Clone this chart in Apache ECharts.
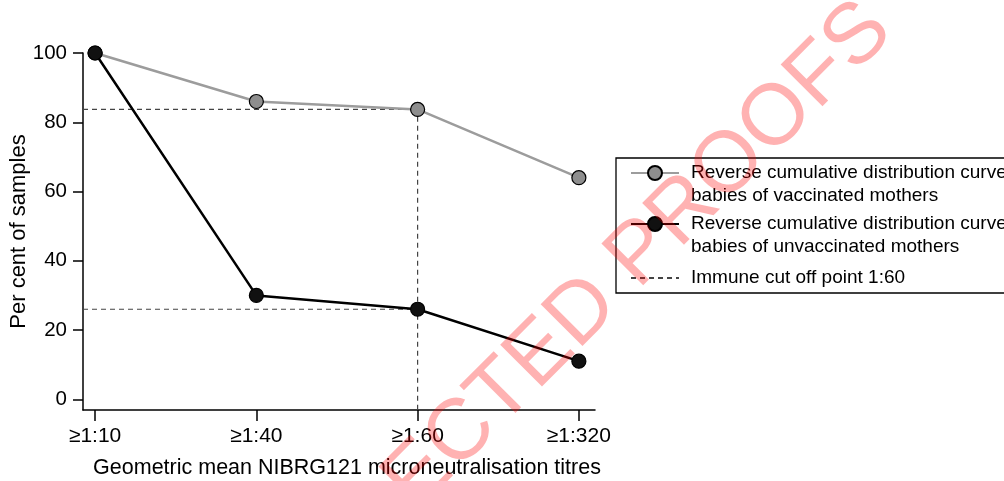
<!DOCTYPE html>
<html><head><meta charset="utf-8">
<script src="https://cdn.jsdelivr.net/npm/echarts@6/dist/echarts.min.js"></script>
<style>html,body{margin:0;padding:0;background:#fff}#c{width:1004px;height:481px}</style>
</head><body><div id="c"></div>
<script>
// ---- data ----
const categories = ['≥1:10', '≥1:40', '≥1:60', '≥1:320'];
const vaccinated = [100, 86, 83.7, 64];
const unvaccinated = [100, 30, 26, 11];
const yTicks = [0, 20, 40, 60, 80, 100];
const nameVacc = 'Reverse cumulative distribution curve\nbabies of vaccinated mothers';
const nameUnvacc = 'Reverse cumulative distribution curve\nbabies of unvaccinated mothers';
const nameCut = 'Immune cut off point 1:60';
const cutIndex = 2;
const xTitle = 'Geometric mean NIBRG121 microneutralisation titres';
const yTitle = 'Per cent of samples';
const watermark = 'UNCORRECTED PROOFS';

// ---- axis extents ----
const xMin = -0.075, xMax = 3.1;
const yMin = -3.1, yMax = 100;
const xTicks = categories.map((c, i) => i);

const FONT = '"Liberation Sans", Arial, Helvetica, sans-serif';
const toPts = arr => arr.map((v, i) => [i, v]);

const chart = echarts.init(document.getElementById('c'), null, {renderer: 'canvas'});
chart.setOption({
  animation: false,
  backgroundColor: '#fff',
  textStyle: {fontFamily: FONT},
  grid: {left: 83, right: 409, top: 53, bottom: 71, containLabel: false, outerBoundsMode: 'none'},
  xAxis: {
    type: 'value', min: xMin, max: xMax,
    splitLine: {show: false},
    axisLine: {show: true, onZero: false, lineStyle: {color: '#000', width: 1.5}},
    axisTick: {show: true, customValues: xTicks, length: 11, lineStyle: {color: '#000', width: 1.5}},
    axisLabel: {customValues: xTicks, margin: 16, color: '#000', fontSize: 21, fontFamily: FONT,
      formatter: v => categories[Math.round(v)]},
    name: xTitle, nameLocation: 'middle', nameGap: 47, nameMoveOverlap: false,
    nameTextStyle: {color: '#000', fontSize: 21.5, fontFamily: FONT, padding: [0, 0, 0, 16]}
  },
  yAxis: {
    type: 'value', min: yMin, max: yMax,
    splitLine: {show: false},
    axisLine: {show: true, onZero: false, lineStyle: {color: '#000', width: 1.5}},
    axisTick: {show: true, customValues: yTicks, length: 10, lineStyle: {color: '#000', width: 1.5}},
    axisLabel: {customValues: yTicks, margin: 16, color: '#000', fontSize: 20.5, fontFamily: FONT},
    name: yTitle, nameLocation: 'middle', nameGap: 53, nameMoveOverlap: false,
    nameTextStyle: {color: '#000', fontSize: 22, fontFamily: FONT}
  },
  legend: {
    orient: 'vertical', left: 616, top: 158,
    padding: [-19.5, 12, -22.5, 14],
    itemGap: -18, itemWidth: 48, itemHeight: 17.5,
    borderColor: '#000', borderWidth: 1.3,
    selectedMode: false,
    formatter: n => (n.indexOf('\n') >= 0 ? '\n' + n : n),
    textStyle: {color: '#000', fontSize: 19, lineHeight: 23, fontFamily: FONT},
    data: [
      {name: nameVacc, textStyle: {padding: [0, 0, 0, 7]}},
      {name: nameUnvacc, textStyle: {padding: [0, 0, 0, 7]}},
      {name: nameCut, textStyle: {padding: [26, 0, 26, 7]},
       itemStyle: {color: 'rgba(0,0,0,0)', borderColor: 'rgba(0,0,0,0)', borderWidth: 0}}
    ]
  },
  series: [
    {
      name: nameCut, type: 'line', z: 1, symbol: 'none', silent: true,
      lineStyle: {color: '#444', width: 1.2, type: [5, 4]},
      data: [[xMin, vaccinated[cutIndex]], [cutIndex, vaccinated[cutIndex]], [cutIndex, yMin]]
    },
    {
      name: nameCut, type: 'line', z: 1, symbol: 'none', silent: true,
      lineStyle: {color: '#444', width: 1.2, type: [5, 4]},
      data: [[xMin, unvaccinated[cutIndex]], [cutIndex, unvaccinated[cutIndex]]]
    },
    {
      name: nameVacc, type: 'line', z: 2, symbol: 'circle', symbolSize: 14,
      lineStyle: {color: '#9c9c9c', width: 2.5},
      itemStyle: {color: '#8e8e8e', borderColor: '#000', borderWidth: 1.2},
      data: toPts(vaccinated)
    },
    {
      name: nameUnvacc, type: 'line', z: 3, symbol: 'circle', symbolSize: 14,
      lineStyle: {color: '#000', width: 2.5},
      itemStyle: {color: '#111', borderColor: '#000', borderWidth: 1.2},
      data: toPts(unvaccinated)
    }
  ],
  graphic: [{
    type: 'text', x: 505, y: 390, rotation: 45 * Math.PI / 180, z: 100, silent: true,
    style: {text: watermark, x: 0, y: 0, align: 'center', verticalAlign: 'middle',
      font: '86px ' + FONT, fill: 'rgba(255,0,0,0.3)'}
  }]
});
</script></body></html>
